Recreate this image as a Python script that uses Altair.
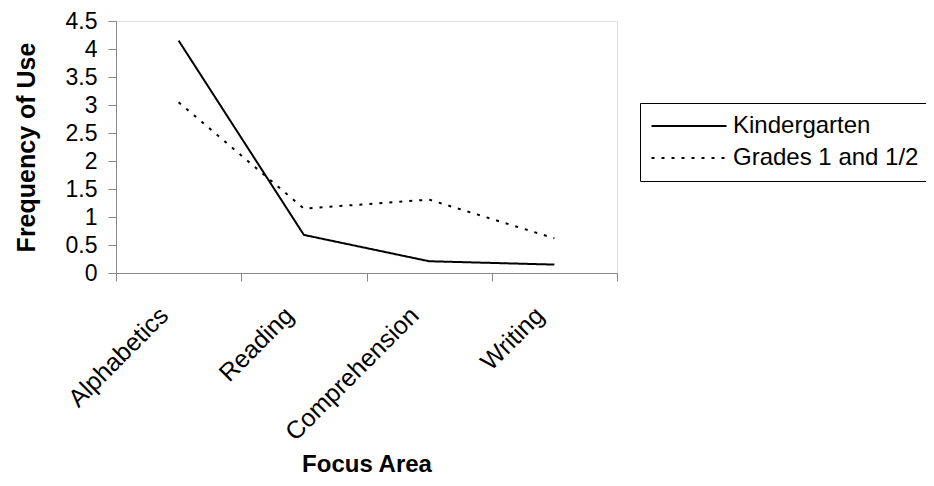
import altair as alt
import pandas as pd

categories = ["Alphabetics", "Reading", "Comprehension", "Writing"]
kindergarten = [4.15, 0.68, 0.21, 0.15]
grades = [3.05, 1.15, 1.31, 0.62]
series_names = ["Kindergarten", "Grades 1 and 1/2"]
y_ticks = [0, 0.5, 1, 1.5, 2, 2.5, 3, 3.5, 4, 4.5]

rows = []
for name, vals in zip(series_names, [kindergarten, grades]):
    for c, v in zip(categories, vals):
        rows.append({"Focus Area": c, "Frequency": v, "Series": name})
df = pd.DataFrame(rows)

FONT = "Liberation Sans"

chart = alt.Chart(df).mark_line(color="black", strokeWidth=2).encode(
    x=alt.X(
        "Focus Area:N",
        sort=categories,
        scale=alt.Scale(paddingInner=0, paddingOuter=0),
        axis=alt.Axis(
            title="Focus Area",
            grid=False,
            labelAngle=-45,
            labelAlign="right",
            labelBaseline="middle",
            labelPadding=30,
            labelOffset=-15,
            labelFontSize=25,
            tickBand="extent",
            tickSize=8,
            titleFontSize=24,
            titleFontWeight="bold",
            titlePadding=8,
        ),
    ),
    y=alt.Y(
        "Frequency:Q",
        scale=alt.Scale(domain=[0, 4.5], nice=False, zero=True),
        axis=alt.Axis(
            title="Frequency of Use",
            grid=False,
            values=y_ticks,
            format="~g",
            labelFontSize=23,
            labelPadding=11,
            tickSize=8,
            titleFontSize=25,
            titleFontWeight="bold",
            titlePadding=26,
        ),
    ),
    strokeDash=alt.StrokeDash(
        "Series:N",
        scale=alt.Scale(domain=series_names, range=[[1, 0], [3, 7]]),
        legend=alt.Legend(
            title=None,
            orient="none",
            legendX=524,
            legendY=82,
            symbolType="M-2.3,0H12.7",
            symbolSize=100,
            symbolStrokeWidth=2,
            symbolStrokeColor="black",
            symbolFillColor="transparent",
            labelFontSize=24,
            labelOffset=58,
            labelLimit=400,
            rowPadding=8,
            padding=11,
            strokeColor="black",
            fillColor="white",
        ),
    ),
).properties(
    width=501,
    height=252,
    autosize=alt.AutoSizeParams(type="none"),
    padding={"left": 108, "top": 13, "right": 309, "bottom": 205},
).configure_view(stroke=None).configure_axis(
    grid=False,
    domainColor="black",
    tickColor="black",
    labelColor="black",
    titleColor="black",
    labelFont=FONT,
    titleFont=FONT,
).configure_legend(
    labelFont=FONT,
    labelColor="black",
).configure(background="white")

chart.save("out.html", embed_options={"renderer": "svg", "actions": False})
